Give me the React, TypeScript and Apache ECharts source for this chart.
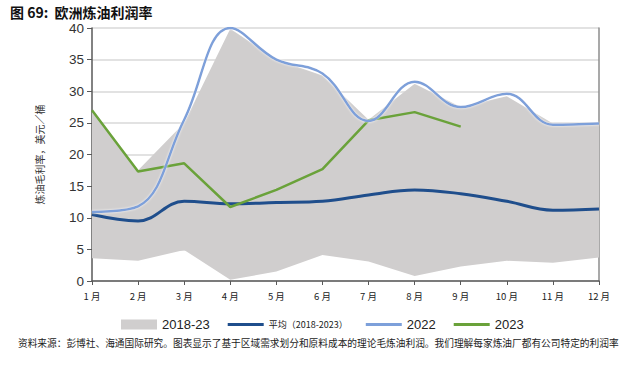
import React, { useEffect, useRef } from "react";
import * as echarts from "echarts";

const months = ["1 月", "2 月", "3 月", "4 月", "5 月", "6 月", "7 月", "8 月", "9 月", "10 月", "11 月", "12 月"];
const rangeLow = [3.6, 3.2, 4.9, 0.2, 1.5, 4.1, 3.1, 0.8, 2.3, 3.2, 2.9, 3.7];
const rangeHigh = [27.0, 17.5, 25.0, 39.9, 35.0, 32.5, 25.5, 31.2, 27.5, 29.2, 24.9, 24.9];
const avg = [10.5, 9.5, 12.6, 12.2, 12.4, 12.6, 13.6, 14.4, 13.8, 12.6, 11.2, 11.4];
const y2022 = [10.9, 11.8, 25.5, 40.0, 35.0, 32.8, 25.3, 31.5, 27.5, 29.6, 24.7, 24.9];
const y2023 = [27.0, 17.3, 18.6, 11.7, 14.4, 17.7, 25.4, 26.7, 24.4];
const yTicks = [0, 40, 5];

const title = "图 69:  欧洲炼油利润率";
const source = "资料来源：彭博社、海通国际研究。图表显示了基于区域需求划分和原料成本的理论毛炼油利润。我们理解每家炼油厂都有公司特定的利润率";

const lineIcon = "path://M0,0 L36,0 L36,3 L0,3 Z";

export default function App() {
  const ref = useRef<HTMLDivElement>(null);
  useEffect(() => {
    document.body.style.margin = "0";
    if (!ref.current) return;
    const chart = echarts.init(ref.current, undefined, { renderer: "svg" });
    const bandDiff = rangeHigh.map((h, i) => +(h - rangeLow[i]).toFixed(2));
    const font = "'Liberation Sans', Arial, sans-serif";
    const cjk = "'Noto Sans CJK SC', sans-serif";
    chart.setOption({
      animation: false,
      backgroundColor: "#fff",
      title: {
        text: title,
        left: 5,
        top: 0,
        textStyle: { fontSize: 14, fontWeight: "bold", color: "#111", fontFamily: cjk },
      },
      grid: { left: 92, right: 25, top: 28, bottom: 85, containLabel: false },
      legend: {
        left: 116,
        top: 313,
        itemWidth: 36,
        itemHeight: 10,
        itemGap: 18,
        textStyle: { fontSize: 13, color: "#222", fontFamily: font },
        data: [
          { name: "2018-23", icon: "rect", itemStyle: { color: "#d0cece" } },
          { name: "平均（2018-2023）", icon: lineIcon, itemStyle: { color: "#1f4e8c" }, textStyle: { fontSize: 9, fontFamily: cjk, color: "#222" } },
          { name: "2022", icon: lineIcon, itemStyle: { color: "#7da0da" } },
          { name: "2023", icon: lineIcon, itemStyle: { color: "#6aa23a" } },
        ],
      },
      xAxis: {
        type: "category",
        data: months,
        boundaryGap: false,
        axisLine: { lineStyle: { color: "#595959", width: 1.5 } },
        axisTick: { show: true, length: 4, lineStyle: { color: "#595959" } },
        axisLabel: { fontSize: 9.5, color: "#222", fontFamily: cjk, margin: 10 },
      },
      yAxis: [
        {
          type: "value",
          min: yTicks[0],
          max: yTicks[1],
          interval: yTicks[2],
          name: "炼油毛利率，美元／桶",
          nameLocation: "middle",
          nameGap: 48,
          nameRotate: 90,
          nameTextStyle: { fontSize: 10, color: "#333", fontFamily: cjk },
          axisLine: { show: true, lineStyle: { color: "#595959", width: 1.5 } },
          axisTick: { show: true, length: 5, lineStyle: { color: "#595959" } },
          axisLabel: { fontSize: 13.5, color: "#333", fontFamily: font, margin: 8 },
          splitLine: { show: true, lineStyle: { color: "#d9d9d9", width: 1.5 } },
        },
        {
          type: "value",
          min: yTicks[0],
          max: yTicks[1],
          interval: yTicks[2],
          position: "right",
          axisLine: { show: true, lineStyle: { color: "#8c8c8c", width: 1.5 } },
          axisTick: { show: false },
          axisLabel: { show: false },
          splitLine: { show: false },
        },
      ],
      series: [
        {
          name: "base",
          type: "line",
          stack: "band",
          data: rangeLow,
          symbol: "none",
          lineStyle: { width: 0 },
          silent: true,
        },
        {
          name: "2018-23",
          type: "line",
          stack: "band",
          data: bandDiff,
          symbol: "none",
          lineStyle: { width: 0 },
          areaStyle: { color: "#d0cece", opacity: 1 },
          itemStyle: { color: "#d0cece" },
        },
        {
          name: "平均（2018-2023）",
          type: "line",
          data: avg,
          smooth: 0.4,
          symbol: "none",
          lineStyle: { color: "#1f4e8c", width: 3 },
          itemStyle: { color: "#1f4e8c" },
        },
        {
          name: "2023",
          type: "line",
          data: y2023,
          symbol: "none",
          lineStyle: { color: "#6aa23a", width: 2.5 },
          itemStyle: { color: "#6aa23a" },
        },
        {
          name: "2022",
          type: "line",
          data: y2022,
          smooth: 0.4,
          symbol: "none",
          lineStyle: { color: "#7da0da", width: 2.5, shadowColor: "rgba(255,255,255,0.9)", shadowBlur: 2 },
          itemStyle: { color: "#7da0da" },
        },
      ],
      graphic: [
        {
          type: "text",
          left: 18,
          top: 338,
          style: { text: source, fontSize: 9.7, fill: "#222", fontFamily: cjk },
        },
      ],
    });
    return () => chart.dispose();
  }, []);
  return <div ref={ref} style={{ width: 624, height: 366 }} />;
}
